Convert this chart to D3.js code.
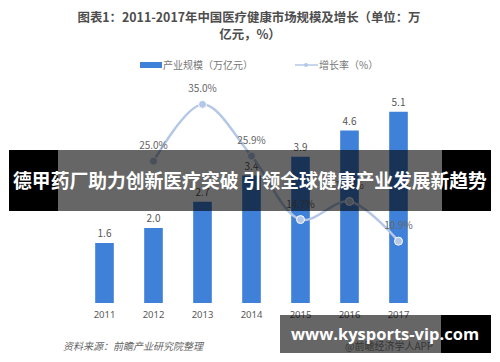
<!DOCTYPE html>
<html>
<head>
<meta charset="utf-8">
<script src="https://cdn.jsdelivr.net/npm/d3@7"></script>
<style>
  body { margin: 0; background: #fff; }
  svg { display: block; font-family: "Noto Sans CJK SC", "Noto Sans", sans-serif; }
</style>
</head>
<body>
<svg id="chart" width="500" height="362"></svg>
<script>
// chart data
const years = ["2011", "2012", "2013", "2014", "2015", "2016", "2017"];
const marketSize = [1.6, 2.0, 2.7, 3.4, 3.9, 4.6, 5.1];
const growthYears = ["2012", "2013", "2014", "2015", "2016", "2017"];
const growthRate = [25.0, 35.0, 25.9, 14.7, 17.9, 10.9];

const svg = d3.select("#chart");

// title
const title = svg.append("g")
  .attr("fill", "#4d4d4d")
  .attr("font-weight", "bold")
  .attr("font-size", "12.4px")
  .attr("text-anchor", "middle");
title.append("text").attr("x", 249).attr("y", 22)
  .text("图表1：2011-2017年中国医疗健康市场规模及增长（单位：万");
title.append("text").attr("x", 250).attr("y", 39)
  .text("亿元，%）");

// legend
let legend = svg.append("g").attr("font-size", "10px").attr("fill", "#777");
legend.append("rect")
  .attr("x", 140).attr("y", 62).attr("width", 22).attr("height", 6)
  .attr("fill", "#3f80d9");
legend.append("text").attr("x", 163).attr("y", 69).text("产业规模（万亿元）");
legend.append("line")
  .attr("x1", 295).attr("x2", 318).attr("y1", 65).attr("y2", 65)
  .attr("stroke", "#b4c7e7").attr("stroke-width", 1.5);
legend.append("circle").attr("cx", 306).attr("cy", 65).attr("r", 2)
  .attr("fill", "#b4c7e7");
legend.append("text").attr("x", 319).attr("y", 69).text("增长率（%）");

// scales
let x = d3.scaleBand().domain(years).range([80, 423]).paddingInner(0.62).paddingOuter(0.31);
let ySize = d3.scaleLinear().domain([0, 6]).range([303, 78]);
let yRate = d3.scaleLinear().domain([0, 40]).range([303, 76]);

let plot = svg.append("g");

// bars
plot.selectAll(".bar")
  .data(marketSize)
  .enter()
  .append("rect")
  .attr("class", "bar")
  .attr("x", (d, i) => x(years[i]))
  .attr("y", d => ySize(d))
  .attr("width", x.bandwidth())
  .attr("height", d => ySize(0) - ySize(d))
  .attr("fill", "#3f80d9");

plot.selectAll(".bar_label")
  .data(marketSize)
  .enter()
  .append("text")
  .attr("class", "bar_label")
  .attr("x", (d, i) => x(years[i]) + x.bandwidth() / 2)
  .attr("y", d => ySize(d) - 6)
  .attr("text-anchor", "middle")
  .attr("font-size", "10px")
  .attr("fill", "#555")
  .text(d => d.toFixed(1));

// x axis labels
let xAxis = d3.axisBottom(x).tickSize(0).tickPadding(8);
let axisG = plot.append("g")
  .attr("transform", `translate(0, ${ySize(0)})`)
  .call(xAxis);
axisG.select(".domain").remove();
axisG.selectAll("text")
  .attr("font-size", "9.5px")
  .attr("fill", "#595959")
  .attr("font-family", "\"Noto Sans\", sans-serif");

// growth line
const cx = yr => x(yr) + x.bandwidth() / 2;
let line = d3.line()
  .x((d, i) => cx(growthYears[i]))
  .y(d => yRate(d))
  .curve(d3.curveCatmullRom.alpha(0.5));

plot.append("path")
  .datum(growthRate)
  .attr("d", line)
  .attr("fill", "none")
  .attr("stroke", "#b4c7e7")
  .attr("stroke-width", 2.5);

plot.selectAll(".dot")
  .data(growthRate)
  .enter()
  .append("circle")
  .attr("class", "dot")
  .attr("cx", (d, i) => cx(growthYears[i]))
  .attr("cy", d => yRate(d))
  .attr("r", 4)
  .attr("fill", "#b4c7e7")
  .attr("stroke", "#fff")
  .attr("stroke-width", 1);

plot.selectAll(".rate_label")
  .data(growthRate)
  .enter()
  .append("text")
  .attr("class", "rate_label")
  .attr("x", (d, i) => cx(growthYears[i]))
  .attr("y", d => yRate(d) - 12)
  .attr("text-anchor", "middle")
  .attr("font-size", "10px")
  .attr("fill", "#666")
  .text(d => d.toFixed(1) + "%");

// source
svg.append("text")
  .attr("x", 63).attr("y", 350)
  .attr("font-size", "10px")
  .attr("font-style", "italic")
  .attr("fill", "#666")
  .text("资料来源：前瞻产业研究院整理");
svg.append("text")
  .attr("x", 345).attr("y", 350)
  .attr("font-size", "10px")
  .attr("fill", "#888")
  .text("@前瞻经济学人APP");

// headline banner: black ends, dimmed middle
svg.append("rect").attr("x", 9).attr("y", 150).attr("width", 49).attr("height", 61).attr("fill", "#000");
svg.append("rect").attr("x", 442).attr("y", 150).attr("width", 49).attr("height", 61).attr("fill", "#000");
svg.append("rect").attr("x", 58).attr("y", 150).attr("width", 384).attr("height", 61)
  .attr("fill", "#000").attr("fill-opacity", 0.6);
svg.append("text")
  .attr("x", 250).attr("y", 188)
  .attr("text-anchor", "middle")
  .attr("font-size", "18.8px")
  .attr("font-weight", "bold")
  .attr("fill", "#fff")
  .text("德甲药厂助力创新医疗突破 引领全球健康产业发展新趋势");

// url banner
svg.append("rect").attr("x", 441).attr("y", 315).attr("width", 50).attr("height", 38).attr("fill", "#000");
svg.append("rect").attr("x", 280).attr("y", 315).attr("width", 161).attr("height", 38)
  .attr("fill", "#000").attr("fill-opacity", 0.6);
svg.append("text")
  .attr("x", 385).attr("y", 340)
  .attr("text-anchor", "middle")
  .attr("font-size", "16.5px")
  .attr("font-weight", "bold")
  .attr("font-family", "\"Open Sans\", \"DejaVu Sans\", sans-serif")
  .attr("fill", "#fff")
  .text("www.kysports-vip.com");
</script>
</body>
</html>
